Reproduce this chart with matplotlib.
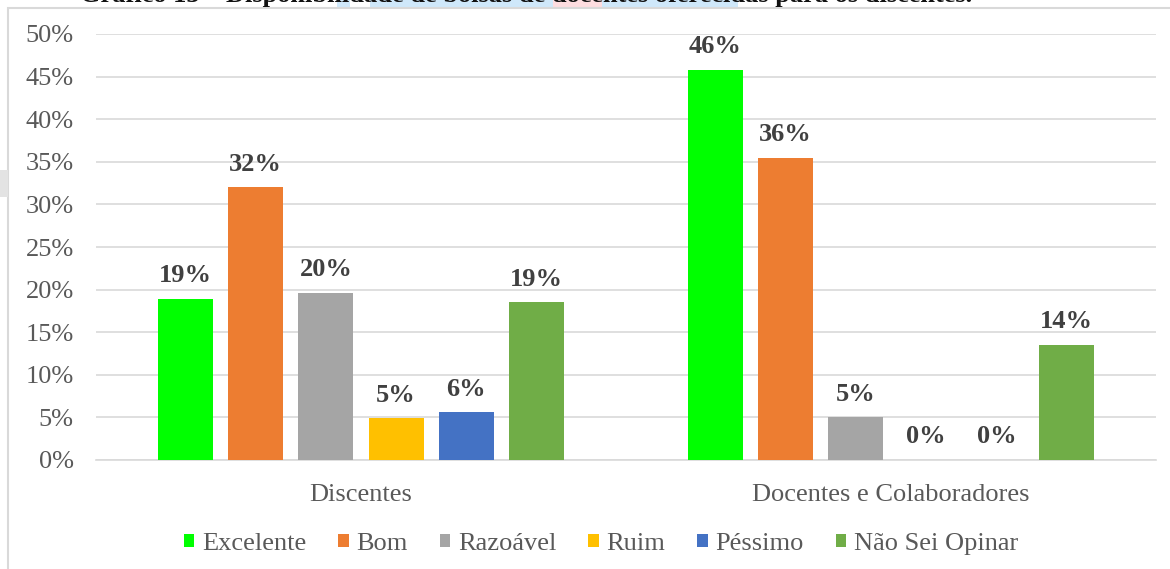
import numpy as np
import matplotlib.pyplot as plt
from matplotlib.patches import Rectangle, Patch

plt.rcParams['font.family'] = ['Liberation Serif', 'DejaVu Serif']

# dados
grupos = ['Discentes', 'Docentes e Colaboradores']
series = ['Excelente', 'Bom', 'Razoável', 'Ruim', 'Péssimo', 'Não Sei Opinar']
excelente = [18.9, 45.8]
bom = [32.0, 35.5]
razoavel = [19.6, 5.0]
ruim = [4.9, 0.0]
pessimo = [5.6, 0.0]
nao_sei = [18.5, 13.5]
rotulos = [['19%', '46%'], ['32%', '36%'], ['20%', '5%'],
           ['5%', '0%'], ['6%', '0%'], ['19%', '14%']]
cores = ['#00FF00', '#ED7D31', '#A5A5A5', '#FFC000', '#4472C4', '#70AD47']

valores = [excelente, bom, razoavel, ruim, pessimo, nao_sei]

W, H = 1170, 569
fig = plt.figure(figsize=(W / 100, H / 100), dpi=100)

# moldura do grafico (caixa cinza clara)
fig.patches.append(Rectangle((8 / W, -0.05), 1.1, (H - 8) / H + 0.05,
                             transform=fig.transFigure, fill=False,
                             edgecolor='#D9D9D9', linewidth=1.5))
# alca lateral do editor
fig.patches.append(Rectangle((0, (H - 197) / H), 8 / W, 27 / H,
                             transform=fig.transFigure, facecolor='#E3E3E3',
                             edgecolor='none'))

# legenda cortada no topo
for x0, x1, c in [(337, 350, '#CFE8FA'), (370, 553, '#CFE8FA'),
                  (553, 602, '#FDDDE0'), (602, 738, '#CFE8FA')]:
    fig.patches.append(Rectangle((x0 / W, (H - 7) / H), (x1 - x0) / W, 7 / H,
                                 transform=fig.transFigure, facecolor=c,
                                 edgecolor='none', zorder=0))
fig.text(972 / W, (H - 2) / H,
         'Gráfico 13 – Disponibilidade de bolsas de docentes oferecidas para os discentes.',
         ha='right', va='baseline', fontsize=19, fontweight='bold', color='#111111')

ax = fig.add_axes([96 / W, (H - 460) / H, (1156 - 96) / W, 426 / H])

x = np.arange(len(grupos))
passo = 0.1326
largura = 0.104
for i, (nome, vals) in enumerate(zip(series, valores)):
    pos = x + (i - 2.5) * passo
    ax.bar(pos, vals, width=largura, color=cores[i], label=nome, zorder=3)
    for p, v, r in zip(pos, vals, rotulos[i]):
        ax.annotate(r, (p, v), xytext=(0, 12), textcoords='offset points',
                    ha='center', va='baseline', fontsize=19, fontweight='bold',
                    color='#404040')

ax.set_xlim(-0.5, 1.5)
ax.set_ylim(0, 50)
ax.set_yticks(np.arange(0, 51, 5))
ax.set_yticklabels([f'{v}%' for v in range(0, 51, 5)])
ax.set_xticks(x)
ax.set_xticklabels(grupos)
ax.tick_params(axis='y', length=0, pad=16, labelsize=19, labelcolor='#595959')
ax.tick_params(axis='x', length=0, pad=17, labelsize=19, labelcolor='#595959')
ax.grid(axis='y', color='#D9D9D9', linewidth=1.2, zorder=0)
for s in ['top', 'right', 'left']:
    ax.spines[s].set_visible(False)
ax.spines['bottom'].set_color('#D9D9D9')
ax.spines['bottom'].set_linewidth(1.2)

handles = [Patch(facecolor=c, label=n) for c, n in zip(cores, series)]
fig.legend(handles=handles, loc='center', bbox_to_anchor=(601 / W, 25 / H),
           ncol=6, frameon=False, fontsize=19, labelcolor='#595959',
           handlelength=0.4, handleheight=0.4, handletextpad=0.3,
           columnspacing=1.2)

fig.savefig('out.png', dpi=100)
